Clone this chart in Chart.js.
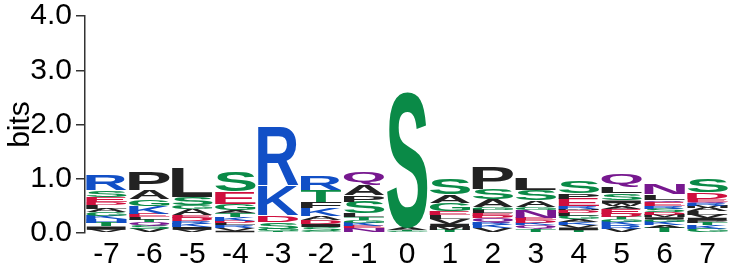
<!DOCTYPE html>
<html>
<head>
<meta charset="utf-8">
<script src="https://cdn.jsdelivr.net/npm/chart.js@4"></script>
<style>
  body { margin: 0; background: #fff; }
</style>
</head>
<body>
<canvas id="logo" width="735" height="267"></canvas>
<script>
// sequence positions
var positions = ["-7", "-6", "-5", "-4", "-3", "-2", "-1", "0", "1", "2", "3", "4", "5", "6", "7"];
var yTicks = [0, 1, 2, 3, 4];

// letters in each column, bottom to top
var letters = [
  "VITHKGALDESR",
  "VSQTLEKGAP",
  "VIKRDEAGSL",
  "IVRLDKTAGES",
  "TGSDKR",
  "GSIDAKFTR",
  "NEKGTLSPAQ",
  "GTAS",
  "TMIVLEGAS",
  "VKRQDELGASP",
  "TQKDENGASL",
  "TIVKAGLDMREPS",
  "VRKGTDEAWISLQ",
  "TAKGIMDSREQLN",
  "GKTPIVLAMRQEDS"
];

// heights in bits, same order as letters
var heights = [
  [0.06, 0.06, 0.06, 0.07, 0.07, 0.07, 0.06, 0.07, 0.05, 0.09, 0.13, 0.28],
  [0.07, 0.06, 0.07, 0.04, 0.05, 0.06, 0.15, 0.13, 0.17, 0.32],
  [0.06, 0.05, 0.06, 0.05, 0.06, 0.05, 0.12, 0.06, 0.15, 0.55],
  [0.04, 0.05, 0.05, 0.05, 0.04, 0.07, 0.07, 0.05, 0.12, 0.22, 0.36],
  [0.04, 0.04, 0.13, 0.12, 0.55, 1.06],
  [0.04, 0.07, 0.06, 0.07, 0.07, 0.15, 0.12, 0.22, 0.25],
  [0.09, 0.04, 0.06, 0.05, 0.05, 0.07, 0.22, 0.12, 0.18, 0.25],
  [0.03, 0.03, 0.04, 2.5],
  [0.05, 0.06, 0.06, 0.09, 0.08, 0.07, 0.15, 0.15, 0.30],
  [0.09, 0.06, 0.04, 0.09, 0.04, 0.04, 0.06, 0.05, 0.15, 0.19, 0.40],
  [0.07, 0.07, 0.05, 0.05, 0.04, 0.15, 0.05, 0.12, 0.19, 0.22],
  [0.05, 0.05, 0.05, 0.05, 0.05, 0.06, 0.06, 0.05, 0.03, 0.04, 0.14, 0.10, 0.22],
  [0.08, 0.06, 0.06, 0.05, 0.04, 0.06, 0.10, 0.05, 0.05, 0.05, 0.13, 0.12, 0.23],
  [0.10, 0.05, 0.06, 0.04, 0.04, 0.04, 0.05, 0.06, 0.05, 0.08, 0.04, 0.10, 0.19],
  [0.08, 0.07, 0.04, 0.04, 0.05, 0.06, 0.06, 0.06, 0.04, 0.04, 0.04, 0.05, 0.12, 0.24]
];

// chemistry colours
var letterColors = {
  G: "#0a8a47", S: "#0a8a47", T: "#0a8a47", Y: "#0a8a47", C: "#0a8a47",
  N: "#77188f", Q: "#77188f",
  K: "#114fc6", R: "#114fc6", H: "#114fc6",
  D: "#cf0f3e", E: "#cf0f3e",
  A: "#222", V: "#222", L: "#222", I: "#222", P: "#222", W: "#222", F: "#222", M: "#222"
};

var layers = Math.max.apply(null, letters.map(function (s) { return s.length; }));
var datasets = [];
for (var k = 0; k < layers; k++) {
  datasets.push({
    label: "layer " + k,
    data: heights.map(function (col) { return col[k] || 0; }),
    backgroundColor: "rgba(0,0,0,0)",
    borderWidth: 0,
    barPercentage: 0.94,
    categoryPercentage: 1.0,
    stack: "logo"
  });
}

function drawLetter(ctx, ch, left, top, w, h) {
  ctx.save();
  ctx.font = 'bold 200px "Liberation Sans", Arial, sans-serif';
  ctx.textAlign = "left";
  ctx.textBaseline = "alphabetic";
  var m = ctx.measureText(ch);
  var gw = m.actualBoundingBoxLeft + m.actualBoundingBoxRight;
  var gh = m.actualBoundingBoxAscent + m.actualBoundingBoxDescent;
  ctx.translate(left, top);
  ctx.scale(w / gw, h / gh);
  ctx.fillStyle = letterColors[ch] || "#222";
  ctx.fillText(ch, m.actualBoundingBoxLeft, m.actualBoundingBoxAscent);
  ctx.restore();
}

var logoPlugin = {
  id: "logoLetters",
  afterDatasetsDraw: function (chart) {
    var ctx = chart.ctx;
    chart.data.datasets.forEach(function (ds, k) {
      var meta = chart.getDatasetMeta(k);
      meta.data.forEach(function (bar, i) {
        var ch = letters[i][k];
        if (!ch) return;
        var top = Math.min(bar.y, bar.base);
        var h = Math.abs(bar.base - bar.y);
        if (h < 0.3) return;
        drawLetter(ctx, ch, bar.x - bar.width / 2, top, bar.width, h);
      });
    });
  }
};

new Chart("logo", {
  type: "bar",
  data: { labels: positions, datasets: datasets },
  plugins: [logoPlugin],
  options: {
    responsive: false,
    animation: false,
    layout: { padding: { left: 0, right: 6, top: 16, bottom: 0 } },
    plugins: { legend: { display: false }, tooltip: { enabled: false } },
    scales: {
      x: {
        stacked: true,
        grid: { display: false, drawTicks: false },
        border: { display: false },
        ticks: {
          color: "#000",
          padding: 4,
          maxRotation: 0,
          autoSkip: false,
          font: { family: '"Liberation Sans", Arial, sans-serif', size: 30 }
        },
        afterFit: function (s) { s.height = 34; s.paddingLeft = 0; s.paddingRight = 0; }
      },
      y: {
        stacked: true,
        min: 0,
        max: 4,
        afterBuildTicks: function (s) { s.ticks = yTicks.map(function (v) { return { value: v }; }); },
        ticks: {
          color: "#000",
          padding: 4,
          callback: function (v) { return Number(v).toFixed(1); },
          font: { family: '"Liberation Sans", Arial, sans-serif', size: 30 }
        },
        grid: { display: true, drawOnChartArea: false, drawTicks: true, tickLength: 9, color: "#333", lineWidth: 1.5 },
        border: { display: true, color: "#333", width: 1.5 },
        title: {
          display: true,
          text: "bits",
          color: "#000",
          padding: { top: 3, bottom: 0 },
          font: { family: '"Liberation Sans", Arial, sans-serif', size: 30 }
        },
        afterFit: function (s) { s.width = 85; s.paddingTop = 0; s.paddingBottom = 0; }
      }
    }
  }
});
</script>
</body>
</html>
